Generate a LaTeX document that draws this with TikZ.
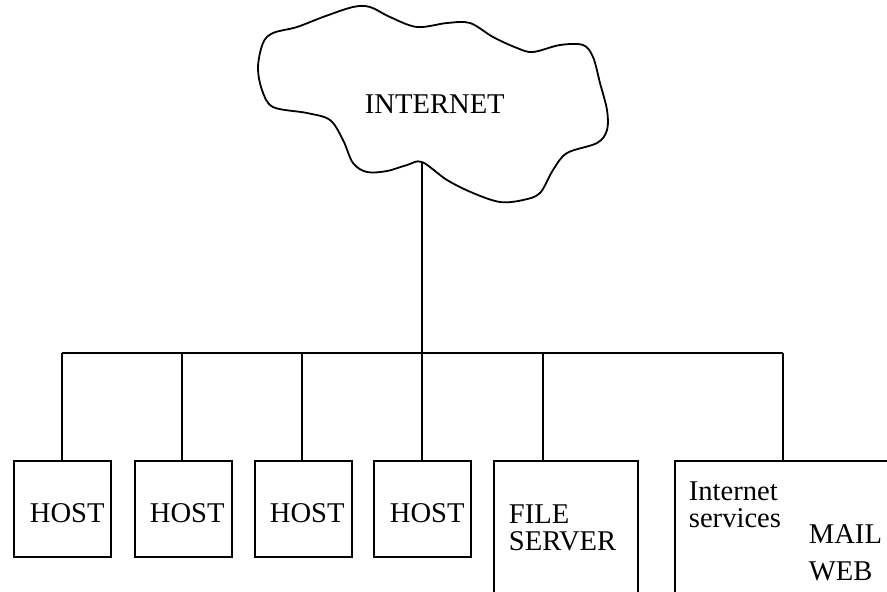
\documentclass[tikz,border=0pt]{standalone}
\usepackage{fontspec}
\setmainfont{Liberation Serif}
\begin{document}
\begin{tikzpicture}[x=0.5pt,y=-0.5pt,line width=0.9pt,
  box/.style={draw,anchor=north west,inner sep=0pt,outer sep=0pt,minimum width=#1},
  host/.style={box=48.5pt,minimum height=48pt},
  lbl/.style={anchor=base west,inner sep=0pt,font=\fontsize{14.3}{16}\selectfont}]
\useasboundingbox (0,0) rectangle (887,591);
\clip (0,0) rectangle (887,591);
% cloud
\draw plot[smooth cycle,tension=0.55] coordinates {
 (273,33) (297,27) (323,17) (353,7) (370,7) (390,17) (417,27) (447,23) (470,23)
 (493,37) (517,48) (533,52) (560,45) (583,45) (593,57) (600,83) (607,110) (607,130)
 (597,143) (567,153) (553,170) (540,193) (523,200) (500,202) (473,193) (447,180)
 (422,162) (407,165) (387,171) (367,172) (353,163) (343,140) (330,120) (307,113)
 (273,107) (262,90) (258,67) (263,43)};
\coordinate (cloudbot) at (422,162);
\node[lbl] (inet) at (364,113) {INTERNET};
% boxes
\node[host] (h1) at (14,461) {};
\node[host] (h2) at (135,461) {};
\node[host] (h3) at (255,461) {};
\node[host] (h4) at (374,461) {};
\node[box=72pt,minimum height=80pt] (fs) at (494,461) {};
\node[box=130pt,minimum height=80pt] (is) at (675,461) {};
\node[lbl] (t1) at (29,522) {HOST};
\node[lbl] (t2) at (149,522) {HOST};
\node[lbl] (t3) at (269,522) {HOST};
\node[lbl] (t4) at (389,522) {HOST};
\node[lbl] (t5) at (508,523) {FILE};
\node[lbl] (t6) at (508,550) {SERVER};
\node[lbl] (t7) at (688,500) {Internet};
\node[lbl] (t8) at (688,527) {services};
\node[lbl] (t9) at (808,543) {MAIL};
\node[lbl] (t10) at (808,580) {WEB};
% bus
\coordinate (b1) at (62,353);
\coordinate (b2) at (182,353);
\coordinate (b3) at (302,353);
\coordinate (b4) at (422,353);
\coordinate (b5) at (543,353);
\coordinate (b6) at (783,353);
\draw (cloudbot) -- (b4);
\draw (b1) -- (b6);
\draw (b1) -- (b1 |- h1.north);
\draw (b2) -- (b2 |- h2.north);
\draw (b3) -- (b3 |- h3.north);
\draw (b4) -- (b4 |- h4.north);
\draw (b5) -- (b5 |- fs.north);
\draw (b6) -- (b6 |- is.north);
\end{tikzpicture}
\end{document}
